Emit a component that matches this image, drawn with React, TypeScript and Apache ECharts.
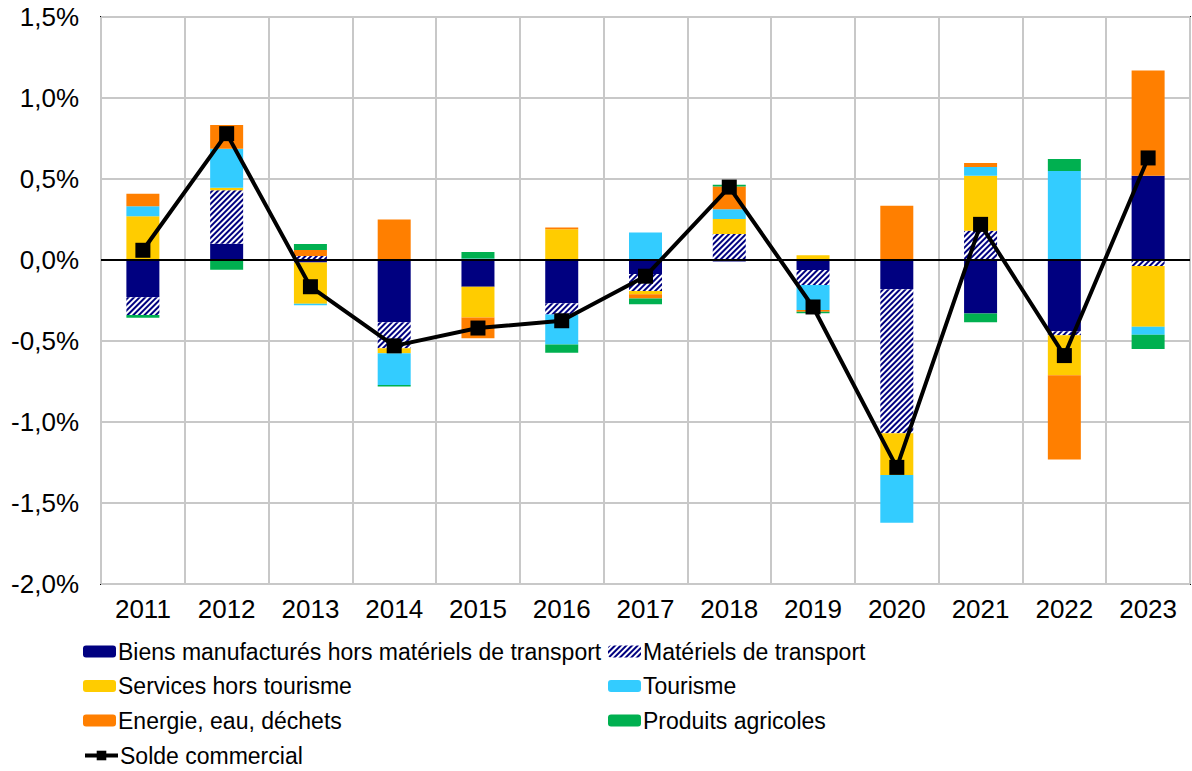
import React, { useEffect, useRef } from "react";
import * as echarts from "echarts";

const years = ["2011", "2012", "2013", "2014", "2015", "2016", "2017", "2018", "2019", "2020", "2021", "2022", "2023"];

const biens = [-0.23, 0.10, -0.015, -0.385, -0.165, -0.267, -0.086, -0.01, -0.062, -0.18, -0.33, -0.44, 0.52];
const transport = [-0.11, 0.33, 0.025, -0.16, 0, -0.07, -0.105, 0.16, -0.093, -0.89, 0.18, -0.025, -0.037];
const services = [0.27, 0.016, -0.255, -0.03, -0.19, 0.19, -0.02, 0.093, 0.03, -0.257, 0.34, -0.247, -0.375];
const tourisme = [0.062, 0.24, -0.01, -0.196, 0.01, -0.185, 0.17, 0.06, -0.154, -0.295, 0.054, 0.55, -0.05];
const energie = [0.077, 0.148, 0.037, 0.25, -0.128, 0.01, -0.027, 0.14, -0.01, 0.335, 0.025, -0.52, 0.65];
const agricoles = [-0.017, -0.06, 0.037, -0.01, 0.04, -0.05, -0.035, 0.012, -0.01, 0, -0.054, 0.074, -0.088];
const solde = [0.06, 0.78, -0.165, -0.53, -0.42, -0.375, -0.10, 0.45, -0.29, -1.28, 0.22, -0.59, 0.63];

const names = [
  "Biens manufacturés hors matériels de transport",
  "Matériels de transport",
  "Services hors tourisme",
  "Tourisme",
  "Energie, eau, déchets",
  "Produits agricoles",
  "Solde commercial",
];

const FONT = "'Liberation Sans', Arial, sans-serif";

export default function App() {
  const ref = useRef<HTMLDivElement>(null);
  useEffect(() => {
    if (!ref.current) return;
    const chart = echarts.init(ref.current, undefined, { renderer: "svg" });
    const bar = (name: string, data: number[], color: string, extra: any = {}) => ({
      name,
      type: "bar",
      stack: "total",
      barWidth: 33,
      data,
      itemStyle: { color, ...extra },
      emphasis: { disabled: true },
    });
    const legendPos: [number, number][] = [
      [83, 652],
      [608, 652],
      [83, 686.5],
      [608, 686.5],
      [83, 721],
      [608, 721],
      [83, 756],
    ];
    const option: any = {
      animation: false,
      textStyle: { fontFamily: FONT },
      grid: {
        left: 101,
        right: 2,
        top: 17,
        bottom: 187,
        show: true,
        borderColor: "#000",
        borderWidth: 2,
        containLabel: false,
      },
      legend: names.map((n, i) => ({
        data: [n],
        left: legendPos[i][0],
        top: legendPos[i][1] - 12,
        padding: 0,
        itemWidth: 33,
        itemHeight: 12,
        itemGap: 0,
        ...(i === 6 ? { lineStyle: { width: 4 } } : {}),
        textStyle: { fontSize: 23, color: "#000", fontFamily: FONT, padding: [0, 0, 0, -3] },
      })),
      xAxis: {
        type: "category",
        data: years,
        axisTick: { show: false },
        axisLine: { show: false },
        splitLine: { show: true, lineStyle: { color: "#c8c8c8", width: 2 } },
        axisLabel: { fontSize: 26, color: "#000", margin: 12, fontFamily: FONT },
      },
      yAxis: {
        type: "value",
        min: -2,
        max: 1.5,
        interval: 0.5,
        axisLine: { show: false },
        axisTick: { show: false },
        splitLine: { show: true, lineStyle: { color: "#c8c8c8", width: 2 } },
        axisLabel: {
          fontSize: 26,
          color: "#000",
          margin: 22,
          fontFamily: FONT,
          formatter: (v: number) => v.toFixed(1).replace(".", ",") + "%",
        },
      },
      series: [
        bar(names[0], biens, "#000080"),
        bar(names[1], transport, "#ffffff", {
          decal: {
            symbol: "rect",
            symbolSize: 1,
            color: "#000080",
            backgroundColor: "#ffffff",
            dashArrayX: [1, 0],
            dashArrayY: [2, 2],
            rotation: -Math.PI / 4,
          },
        }),
        bar(names[2], services, "#FFCC00"),
        bar(names[3], tourisme, "#33CCFF"),
        bar(names[4], energie, "#FF7F00"),
        bar(names[5], agricoles, "#00B050"),
        {
          name: names[6],
          type: "line",
          data: solde,
          symbol: "rect",
          symbolSize: 15,
          z: 5,
          itemStyle: { color: "#000" },
          lineStyle: { color: "#000", width: 4 },
          emphasis: { disabled: true },
          markLine: {
            silent: true,
            symbol: "none",
            label: { show: false },
            lineStyle: { color: "#000", width: 2, type: "solid" },
            data: [{ yAxis: 0 }],
          },
        },
      ],
    };
    chart.setOption(option);
    return () => chart.dispose();
  }, []);
  return (
    <div
      ref={ref}
      style={{ position: "absolute", left: 0, top: 0, width: 1192, height: 771, background: "#fff" }}
    />
  );
}
